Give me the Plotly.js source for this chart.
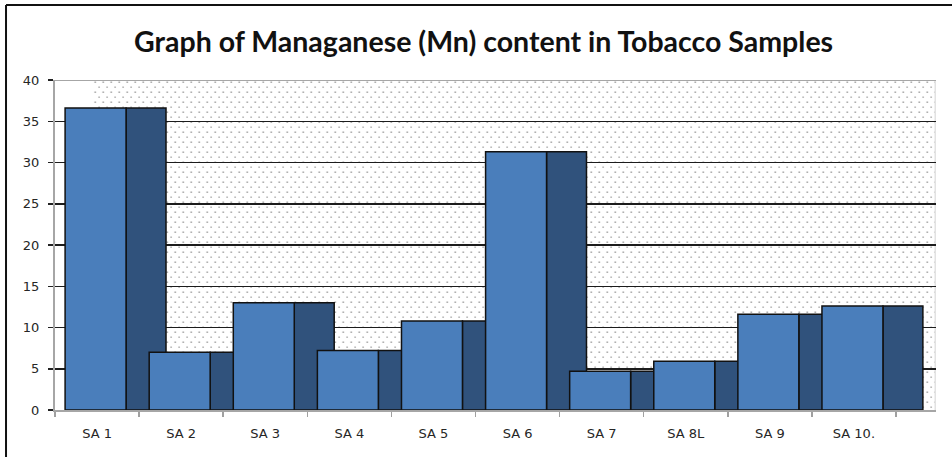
<!DOCTYPE html>
<html>
<head>
<meta charset="utf-8">
<script src="https://cdn.plot.ly/plotly-3.0.1.min.js"></script>
<style>
  html, body { margin: 0; padding: 0; background: #ffffff; }
  #chart { width: 952px; height: 457px; }
</style>
</head>
<body>
<div id="chart"></div>
<script>
// ---- data ----
const categories = ['SA 1', 'SA 2', 'SA 3', 'SA 4', 'SA 5', 'SA 6', 'SA 7', 'SA 8L', 'SA 9', 'SA 10.'];
const mnContent = [36.6, 7.0, 13.0, 7.2, 10.8, 31.3, 4.7, 5.9, 11.6, 12.6];
const yTickVals = [0, 5, 10, 15, 20, 25, 30, 35, 40];
const chartTitle = 'Graph of Managanese (Mn) content in Tobacco Samples';

// ---- dotted back wall as an svg image ----
const wallW = 843, wallH = 330;
const wallSvg =
  '<svg xmlns="http://www.w3.org/2000/svg" width="' + wallW + '" height="' + wallH + '">' +
  '<defs><pattern id="d" width="8" height="10" patternUnits="userSpaceOnUse">' +
  '<rect x="1.5" y="1.5" width="1.4" height="1.4" fill="#8c8c8c"/>' +
  '<rect x="5.5" y="6.5" width="1.4" height="1.4" fill="#a0a0a0"/>' +
  '</pattern></defs>' +
  '<rect width="100%" height="100%" fill="#ffffff"/>' +
  '<rect width="100%" height="100%" fill="url(#d)"/>' +
  '<rect x="' + (wallW - 1.5) + '" y="0" width="1.5" height="100%" fill="#e2e2e2"/>' +
  '</svg>';
const wallSrc = 'data:image/svg+xml;charset=utf-8,' + encodeURIComponent(wallSvg);

const sideTrace = {
  type: 'bar',
  x: categories,
  y: mnContent,
  offset: 0.345,
  width: 0.475,
  marker: { color: '#30527c', line: { color: '#111111', width: 1.5 } },
  hoverinfo: 'skip',
  showlegend: false
};
const frontTrace = {
  type: 'bar',
  x: categories,
  y: mnContent,
  offset: -0.38,
  width: 0.725,
  marker: { color: '#4a7ebb', line: { color: '#111111', width: 1.5 } },
  name: 'Mn',
  showlegend: false
};

const tickFont = { family: '"DejaVu Sans", Verdana, sans-serif', size: 13, color: '#262626' };

const layout = {
  width: 952,
  height: 457,
  margin: { l: 55, r: 16, t: 80, b: 47 },
  paper_bgcolor: '#ffffff',
  plot_bgcolor: 'rgba(0,0,0,0)',
  barmode: 'overlay',
  showlegend: false,
  title: {
    text: chartTitle,
    font: { family: 'Lato, "Open Sans", sans-serif', size: 28.5, color: '#111111', weight: 'bold' },
    x: 0.508,
    xref: 'container',
    xanchor: 'center',
    y: 0.908,
    yref: 'container',
    yanchor: 'middle'
  },
  xaxis: {
    type: 'category',
    range: [-0.5, 9.976],
    showline: true,
    linecolor: '#a6a6a6',
    linewidth: 2,
    ticks: 'outside',
    tickson: 'boundaries',
    ticklen: 5,
    tickcolor: '#a0a0a0',
    tickwidth: 1.5,
    ticklabelstandoff: 10,
    showgrid: false,
    zeroline: false,
    tickfont: tickFont,
    fixedrange: true
  },
  yaxis: {
    range: [0, 40],
    tickvals: yTickVals,
    showline: true,
    linecolor: '#a6a6a6',
    linewidth: 2,
    ticks: 'outside',
    ticklen: 5,
    tickcolor: '#222222',
    tickwidth: 1.5,
    ticklabelstandoff: 6,
    showgrid: true,
    gridcolor: '#1c1c1c',
    gridwidth: 1.5,
    zeroline: false,
    tickfont: tickFont,
    fixedrange: true
  },
  images: [{
    source: wallSrc,
    xref: 'paper', yref: 'y',
    x: 0.0431, y: 40,
    sizex: 0.9569, sizey: 40,
    xanchor: 'left', yanchor: 'top',
    sizing: 'stretch',
    layer: 'below'
  }],
  shapes: [
    // grey top gridline at 40
    { type: 'line', xref: 'paper', yref: 'y', x0: 0, x1: 1, y0: 40, y1: 40,
      line: { color: '#a6a6a6', width: 2 }, layer: 'above' },
    // outer frame (top & left)
    { type: 'line', xref: 'paper', yref: 'paper', x0: -0.0556, x1: 1.02, y0: 1.227, y1: 1.227,
      line: { color: '#111111', width: 2 } },
    { type: 'line', xref: 'paper', yref: 'paper', x0: -0.0556, x1: -0.0556, y0: 1.227, y1: -0.15,
      line: { color: '#111111', width: 2 } }
  ]
};

Plotly.newPlot('chart', [sideTrace, frontTrace], layout, { displayModeBar: false, staticPlot: true });
</script>
</body>
</html>
